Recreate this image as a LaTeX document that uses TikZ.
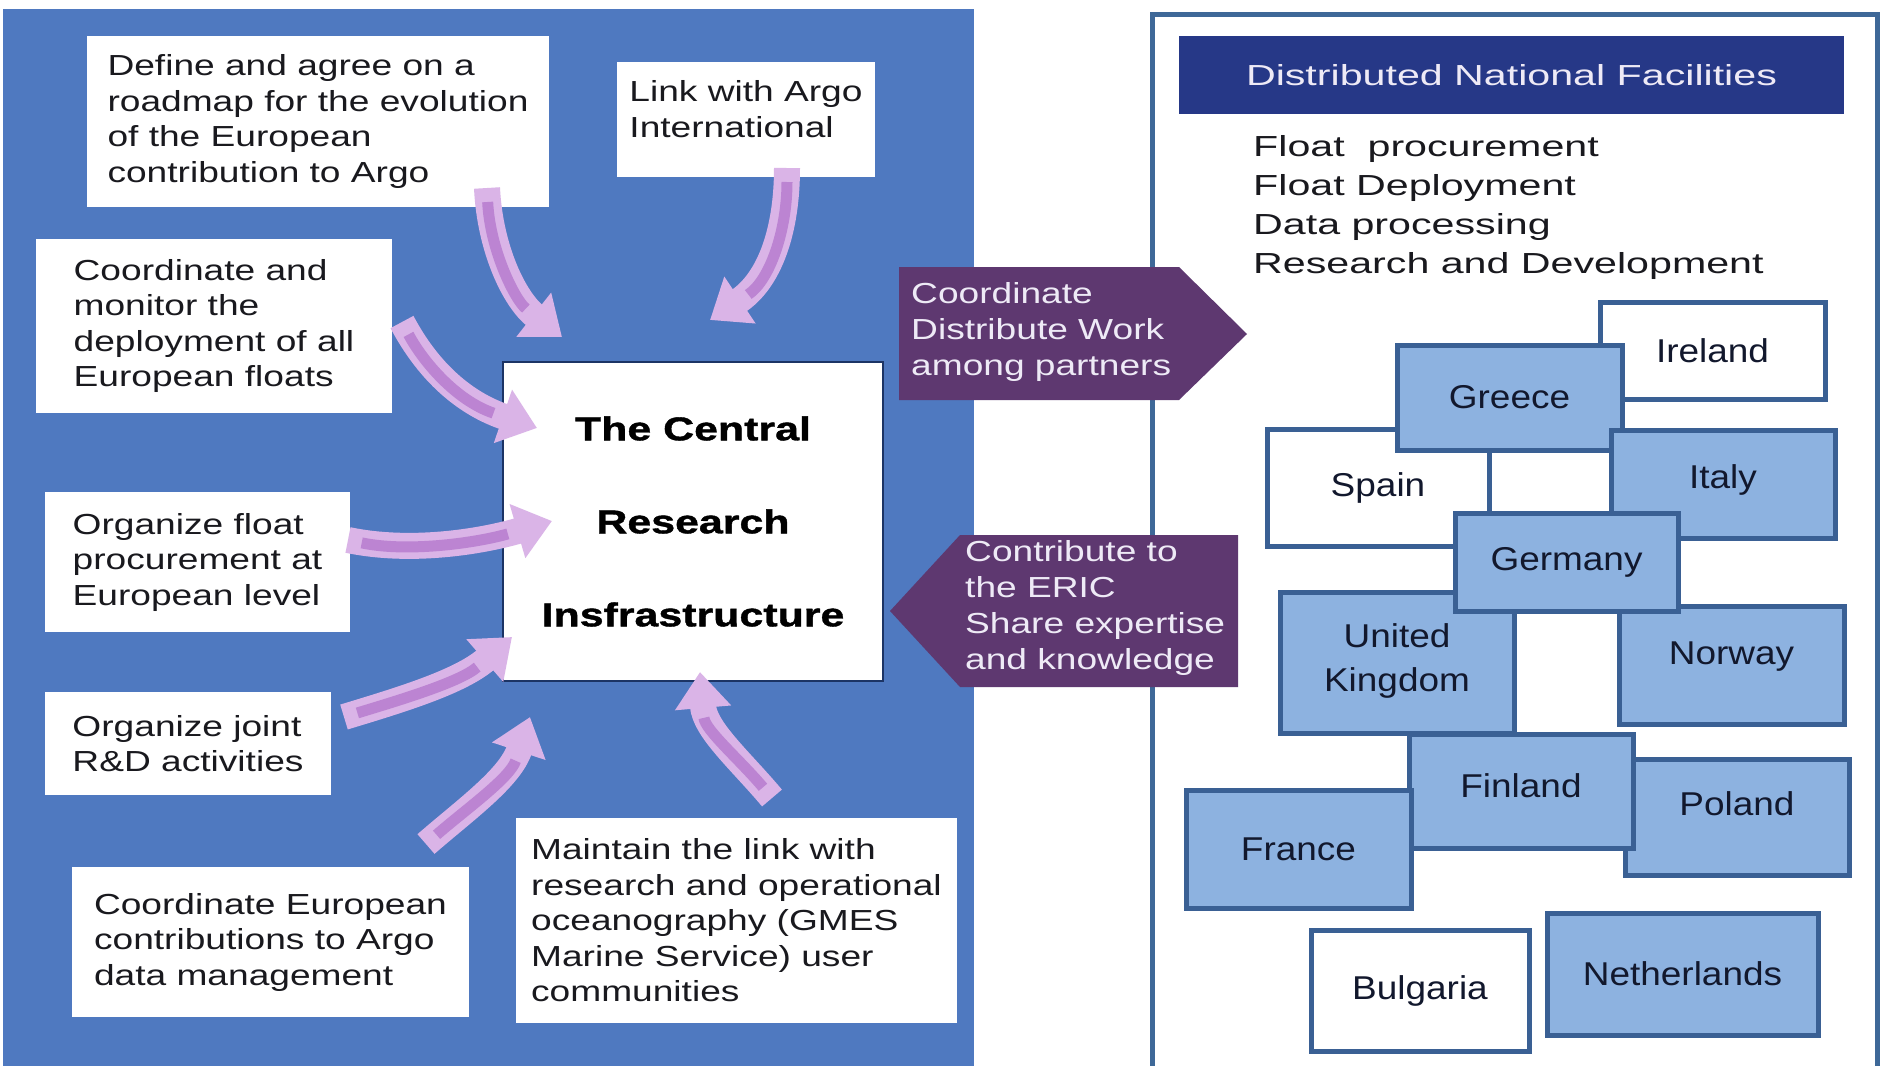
\documentclass[tikz,border=0pt]{standalone}
\usepackage{fontspec}
\setmainfont{Liberation Sans}
\newfontfamily\boxf[FakeStretch=1.28]{Liberation Sans}
\newfontfamily\listf[FakeStretch=1.42]{Liberation Sans}
\newfontfamily\cntf[FakeStretch=1.12]{Liberation Sans}
\newfontfamily\ctrf[FakeStretch=1.3,FakeBold=1.2]{Liberation Sans}
\usetikzlibrary{arrows.meta}
\definecolor{panelblue}{RGB}{79,121,192}
\definecolor{navy}{RGB}{38,56,135}
\definecolor{eggplant}{RGB}{94,56,112}
\definecolor{cfill}{RGB}{141,178,224}
\definecolor{cborder}{RGB}{58,96,148}
\definecolor{frameblue}{RGB}{62,104,152}
\definecolor{darkedge}{RGB}{28,52,101}
\definecolor{lav}{RGB}{218,180,231}
\definecolor{lavdark}{RGB}{188,132,210}
\definecolor{lavedge}{RGB}{240,225,248}
\definecolor{inktext}{RGB}{25,25,30}
\definecolor{ctext}{RGB}{18,24,45}
\definecolor{paletext}{RGB}{238,234,246}
\begin{document}
\begin{tikzpicture}[x=1pt,y=-1pt,
  tbox/.style={fill=white, align=left, text=inktext, font=\boxf\fontsize{29}{35.5}\selectfont, inner sep=0pt},
  cbox/.style={draw=cborder, line width=5pt, fill=cfill, text=ctext, font=\cntf\fontsize{33}{44}\selectfont, align=center, inner sep=0pt},
  wbox/.style={cbox, fill=white},
  carrow/.style={line width=26pt, draw=lav, -{Triangle[width=54pt,length=36pt]}},
  cstripe/.style={line width=11pt, draw=lavdark, shorten >=46pt, shorten <=14pt},
  ptext/.style={align=left, text=paletext, font=\boxf\fontsize{29}{36}\selectfont, anchor=west, inner sep=0pt}
]
\useasboundingbox (0,0) rectangle (1883,1066);
\fill[white] (0,0) rectangle (1883,1066);
% left panel
\fill[panelblue] (3,9) rectangle (974,1066);
% right panel frame
\draw[frameblue, line width=5pt] (1152,1075) -- (1152,14) -- (1877,14) -- (1877,1075);
% header and list
\node[fill=navy, minimum width=665pt, minimum height=78pt, text=paletext,
      font=\listf\fontsize{29}{35}\selectfont, inner sep=0pt] (hdr) at (1511.5,75) {Distributed National Facilities};
\node[font=\listf\fontsize{29}{39}\selectfont, align=left, anchor=west, inner sep=0pt, text=inktext] (tasks) at (1253,207)
  {Float~~procurement\\Float Deployment\\Data processing\\Research and Development};
% countries
\node[wbox, minimum width=225pt, minimum height=97pt]  (ireland) at (1712.5,350.5) {Ireland};
\node[wbox, minimum width=222pt, minimum height=117pt] (spain)   at (1378,487.5) {Spain};
\node[cbox, minimum width=225pt, minimum height=105pt] (greece)  at (1509.5,397.5) {Greece};
\node[cbox, minimum width=224pt, minimum height=108pt] (italy)   at (1723,484) {Italy\\[-30pt]\mbox{}};
\node[cbox, minimum width=234pt, minimum height=141pt] (uk)      at (1397,662.5) {United\\Kingdom\\[-34pt]\mbox{}};
\node[cbox, minimum width=225pt, minimum height=118pt] (norway)  at (1731.5,665) {Norway\\[-20pt]\mbox{}};
\node[cbox, minimum width=223pt, minimum height=98pt]  (germany) at (1566.5,562) {Germany};
\node[cbox, minimum width=224pt, minimum height=116pt] (poland)  at (1737,817) {Poland\\[-18pt]\mbox{}};
\node[cbox, minimum width=224pt, minimum height=114pt] (finland) at (1521,791) {Finland\\[-34pt]\mbox{}};
\node[cbox, minimum width=225pt, minimum height=118pt] (france)  at (1298.5,849) {France};
\node[wbox, minimum width=218pt, minimum height=121pt] (bulgaria) at (1420,990.5) {Bulgaria};
\node[cbox, minimum width=271pt, minimum height=122pt] (netherlands) at (1682.5,974) {Netherlands};
% left text boxes
\node[tbox, minimum width=462pt, minimum height=171pt] (roadmap) at (318,121.5)
  {Define and agree on a\\roadmap for the evolution\\of the European\\contribution to Argo};
\node[tbox, minimum width=258pt, minimum height=115pt] (argoint) at (746,119.5)
  {Link with Argo\\International\\[-14pt]\mbox{}};
\node[tbox, minimum width=356pt, minimum height=174pt] (monitor) at (214,326)
  {Coordinate and\\monitor the\\deployment of all\\European floats};
\node[tbox, minimum width=305pt, minimum height=140pt] (procure) at (197.5,562)
  {Organize float\\procurement at\\European level};
\node[tbox, minimum width=286pt, minimum height=103pt] (rnd) at (188,743.5)
  {Organize joint\\R\&D activities};
\node[tbox, minimum width=397pt, minimum height=150pt] (datamgmt) at (270.5,942)
  {Coordinate European\\contributions to Argo\\data management};
\node[tbox, minimum width=441pt, minimum height=205pt] (gmes) at (736.5,920.5)
  {Maintain the link with\\research and operational\\oceanography (GMES\\Marine Service) user\\communities};
% central box
\node[draw=darkedge, line width=2.5pt, fill=white, minimum width=380pt, minimum height=319pt,
      align=center, inner sep=0pt, text=black, font=\ctrf\bfseries\fontsize{33}{93}\selectfont] (cri) at (693,521.5)
  {The Central\\Research\\Insfrastructure};
% curved arrows
\coordinate (a1s) at (487,188); \coordinate (a1e) at (562,337);
\coordinate (a2s) at (787,168); \coordinate (a2e) at (710,320);
\coordinate (a3s) at (402,322); \coordinate (a3e) at (537,428);
\coordinate (a4s) at (348,540); \coordinate (a4e) at (552,521);
\coordinate (a5s) at (344,717); \coordinate (a5e) at (512,637);
\coordinate (a6s) at (426,844); \coordinate (a6e) at (530,717);
\coordinate (a7s) at (772,798); \coordinate (a7e) at (700,672);
\foreach \st in {carrow,cstripe}{
  \draw[\st] (a1s) .. controls (490,250) and (515,300) .. (a1e);
  \draw[\st] (a2s) .. controls (787,230) and (770,280) .. (a2e);
  \draw[\st] (a3s) .. controls (422,360) and (455,400) .. (a3e);
  \draw[\st] (a4s) .. controls (410,553) and (480,542) .. (a4e);
  \draw[\st] (a5s) .. controls (400,700) and (460,682) .. (a5e);
  \draw[\st] (a6s) .. controls (465,810) and (510,778) .. (a6e);
  \draw[\st] (a7s) .. controls (740,760) and (705,730) .. (a7e);
}
% purple pentagon arrows
\fill[eggplant] (899,267) -- (1179,267) -- (1247,334) -- (1179,400) -- (899,400) -- cycle;
\node[ptext] (distwork) at (911,332) {Coordinate\\Distribute Work\\among partners};
\fill[eggplant] (960,535) -- (1238,535) -- (1238,687) -- (960,687) -- (890,611) -- cycle;
\node[ptext] (contrib) at (965,608) {Contribute to\\the ERIC\\Share expertise\\and knowledge};
\end{tikzpicture}
\end{document}
